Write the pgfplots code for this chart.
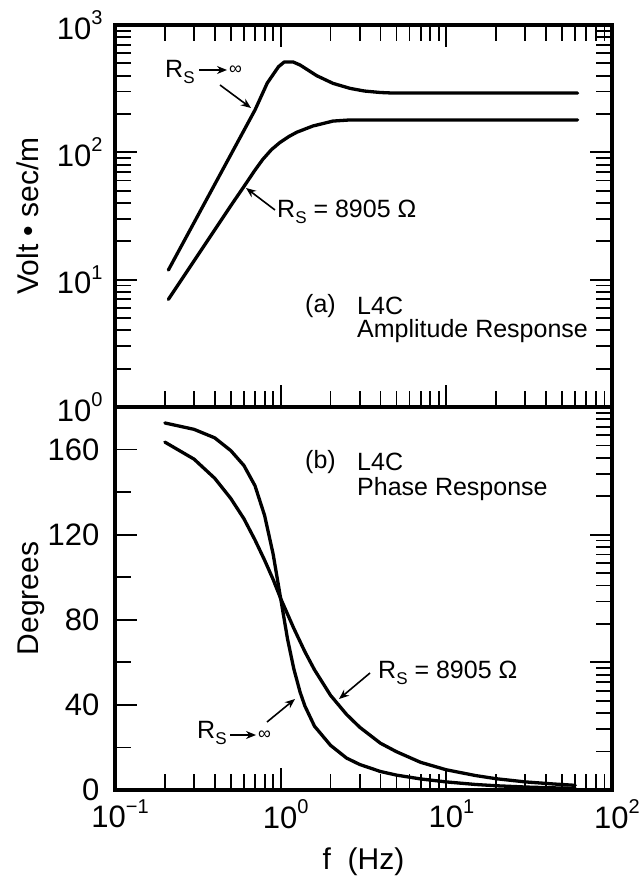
\documentclass[border=0pt]{standalone}
\usepackage{pgfplots}
\pgfplotsset{compat=1.18}
\usepackage{fontspec}
\setmainfont{Liberation Sans}
\usetikzlibrary{arrows.meta}
\newcommand\tp[1]{10\raisebox{0.47em}{\fontsize{20}{20}\selectfont #1}}
\newcommand\RS{R\raisebox{-0.22em}{\fontsize{17}{17}\selectfont S}}
\begin{document}
\begin{tikzpicture}
\useasboundingbox (-115pt,-475pt) rectangle (529pt,407pt);
\pgfplotsset{
  every axis/.append style={
    scale only axis, width=497pt,
    xmode=log, xmin=0.1, xmax=100, xtick={0.1,1,10,100},
    axis line style={line width=3.5pt},
    every tick/.style={line width=1.8pt, black},
    major tick length=22pt, minor tick length=16pt,
    tick label style={font=\fontsize{31}{32}\selectfont},
    label style={font=\fontsize{30}{31}\selectfont},
  },
  curve/.style={black, line width=3.3pt, line join=round, line cap=round},
}
% ---------- (a) amplitude ----------
\begin{axis}[
  at={(0pt,0pt)}, anchor=south west, height=382pt,
  ymode=log, ymin=1, ymax=1000, ytick={1,10,100,1000},
  yticklabels={\tp{0},\tp{1},\tp{2},\tp{3}},
  xticklabels={},
  yticklabel style={xshift=-9pt},
  ylabel={Volt \textbullet\ sec/m},
  ylabel style={at={(axis description cs:-0.176,0.5)}, anchor=center},
]
\addplot[curve] coordinates {
(0.21,11.9) (0.70,215) (0.83,350) (0.97,470) (1.05,512) (1.19,512)
(1.31,485) (1.65,400) (2.07,348) (2.62,318) (3.2,303) (4.0,295) (4.8,292) (62,292)};
\addplot[curve] coordinates {
(0.21,7.0) (0.494,37.2) (0.609,55.4) (0.70,72.5) (0.78,88) (0.88,105)
(0.99,119.5) (1.12,133) (1.254,144) (1.566,161) (2.07,176) (2.6,179.5) (62,179.5)};
\end{axis}
% ---------- right log ticks of lower panel ----------
\begin{axis}[
  at={(0pt,0pt)}, anchor=north west, height=383pt,
  ymode=log, ymin=1, ymax=1000, ytick={1,10,100,1000},
  ytick pos=right, yticklabels={}, xtick=\empty,
  axis line style={draw=none},
]
\end{axis}
% ---------- (b) phase ----------
\begin{axis}[
  at={(0pt,0pt)}, anchor=north west, height=383pt,
  ymin=0, ymax=180, ytick={0,40,80,120,160}, minor ytick={20,60,100,140},
  yticklabels={0,40,80,120,160},
  ytick pos=left, xtick pos=left,
  xticklabels={\tp{−1},\tp{0},\tp{1},\tp{2}},
  xticklabel style={yshift=-6pt, xshift=5pt},
  yticklabel style={xshift=-12pt},
  ylabel={Degrees},
  ylabel style={at={(axis description cs:-0.169,0.5)}, anchor=center},
  xlabel={f\ \ (Hz)},
  xlabel style={at={(axis description cs:0.5,0)}, anchor=center, yshift=-72pt},
]
\addplot[curve] coordinates {
(0.2,172.5) (0.3,169.5) (0.4,165.5) (0.5,159.5) (0.6,152.5) (0.7,143) (0.8,129)
(0.9,111) (1.0,90) (1.1,71) (1.2,57) (1.31,46) (1.4,39.5) (1.6,30) (2.0,21)
(2.5,15) (3,12) (4,8.7) (5,7) (7,5.2) (10,3.8) (15,2.6) (20,2.0) (30,1.4) (45,1.0) (60,0.8)};
\addplot[curve] coordinates {
(0.2,163.5) (0.3,155.5) (0.4,146.5) (0.5,137) (0.6,127.5) (0.7,117.5) (0.8,108)
(0.9,99) (1.0,90) (1.2,76) (1.4,65) (1.6,56.5) (2,44.5) (2.5,35.5) (3,29.5)
(4,22) (5,18) (7,13) (10,9.5) (15,6.8) (20,5.3) (30,3.8) (45,2.8) (60,2.2)};
\end{axis}
% ---------- annotations ----------
\tikzset{ann/.style={anchor=west, inner sep=0pt, font=\fontsize{25}{26}\selectfont},
  sa/.style={-{Stealth[length=10pt,width=8pt]}, line width=1.6pt}}
% (a)
\node[ann] at (50pt,335pt) {\RS};
\draw[sa] (84pt,337pt) -- (112pt,337pt);
\node[ann, font=\fontsize{18}{18}\selectfont] at (114pt,337pt) {∞};
\draw[sa] (105pt,322pt) -- (136pt,299pt);
\node[ann] at (162pt,195pt) {\RS\ = 8905 Ω};
\draw[sa] (160pt,197pt) -- (131pt,219pt);
\node[ann] at (190pt,101pt) {(a)};
\node[ann] at (242pt,101pt) {L4C};
\node[ann] at (242pt,76pt) {Amplitude Response};
% (b)
\node[ann] at (190pt,-55pt) {(b)};
\node[ann] at (242pt,-55pt) {L4C};
\node[ann] at (242pt,-82pt) {Phase Response};
\node[ann] at (263pt,-266pt) {\RS\ = 8905 Ω};
\draw[sa] (255pt,-266pt) -- (224pt,-292pt);
\node[ann] at (82pt,-326pt) {\RS};
\draw[sa] (115pt,-328pt) -- (141pt,-328pt);
\node[ann, font=\fontsize{18}{18}\selectfont] at (143pt,-328pt) {∞};
\draw[sa] (152pt,-315pt) -- (180pt,-292pt);
\end{tikzpicture}
\end{document}
